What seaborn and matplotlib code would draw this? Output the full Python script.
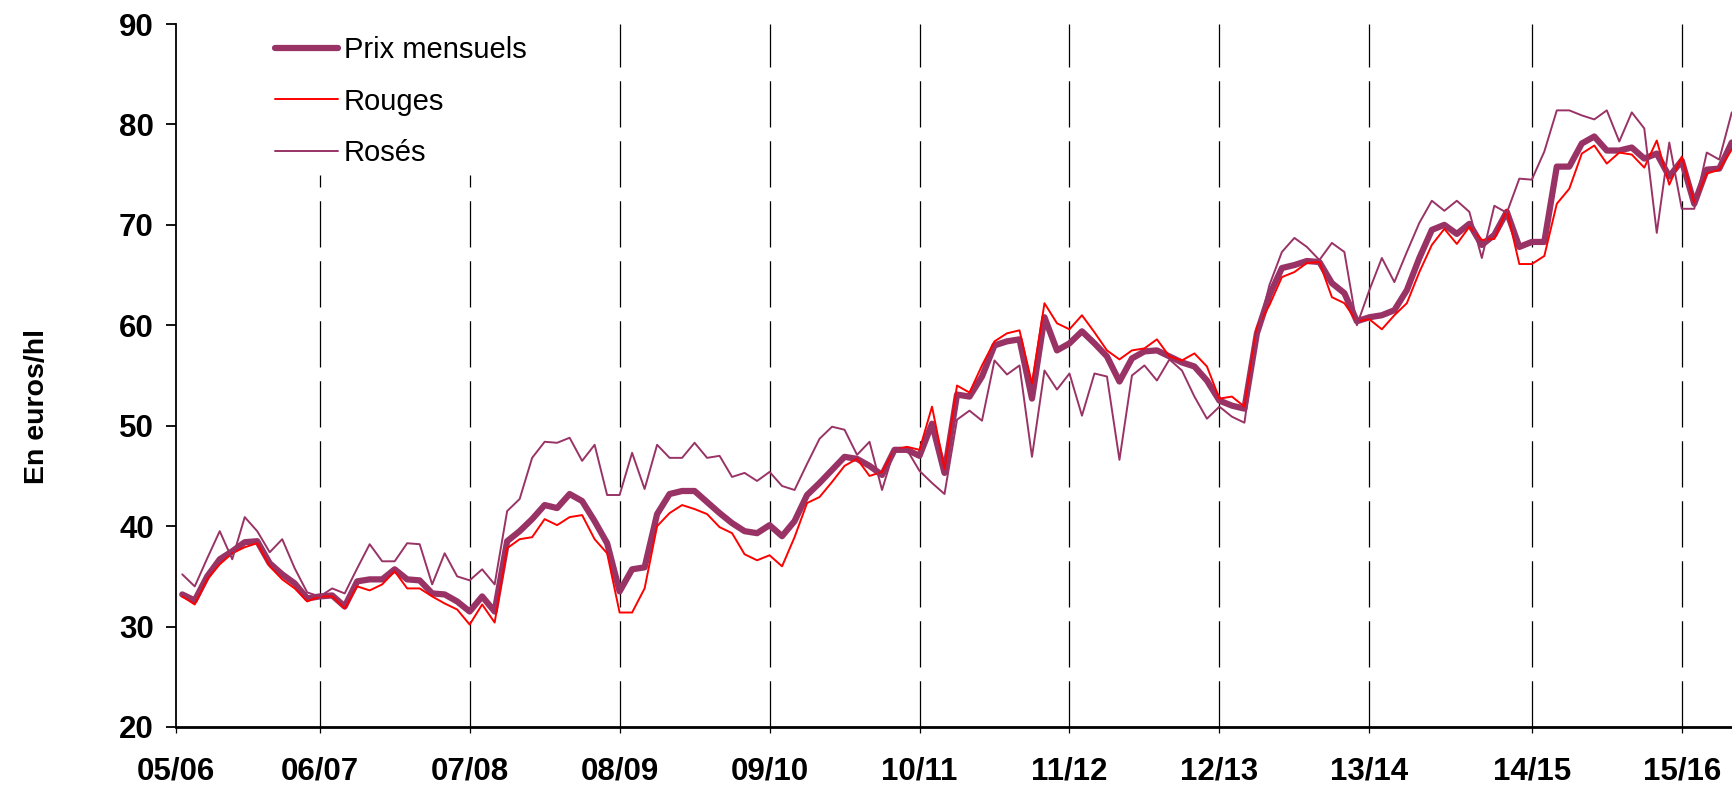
import numpy as np
import pandas as pd
import matplotlib.pyplot as plt
import seaborn as sns

# Prix moyens mensuels (euros/hl), campagnes 05/06 a 15/16
prix = [33.2, 32.6, 35.0, 36.7, 37.5, 38.4, 38.5, 36.3, 35.2, 34.3, 32.8, 33.0,
        33.1, 32.0, 34.5, 34.7, 34.7, 35.7, 34.7, 34.6, 33.3, 33.2, 32.5, 31.5,
        33.0, 31.5, 38.5, 39.5, 40.7, 42.1, 41.8, 43.2, 42.5, 40.5, 38.3, 33.5,
        35.7, 35.9, 41.2, 43.2, 43.5, 43.5, 42.4, 41.3, 40.3, 39.5, 39.3, 40.1,
        39.0, 40.5, 43.1, 44.3, 45.6, 46.9, 46.7, 46.0, 45.1, 47.6, 47.6, 47.0,
        50.2, 45.3, 53.1, 52.9, 54.9, 58.0, 58.4, 58.6, 52.7, 60.8, 57.5, 58.2,
        59.4, 58.2, 56.9, 54.4, 56.7, 57.4, 57.5, 56.9, 56.3, 55.9, 54.5, 52.5,
        52.0, 51.7, 59.2, 63.0, 65.7, 66.0, 66.4, 66.3, 64.2, 63.2, 60.4, 60.8,
        61.0, 61.5, 63.5, 66.7, 69.5, 70.0, 69.1, 70.1, 68.0, 69.0, 71.3, 67.8,
        68.3, 68.3, 75.8, 75.8, 78.1, 78.8, 77.4, 77.4, 77.7, 76.6, 77.1, 74.8,
        76.4, 72.1, 75.5, 75.6, 78.2]

rouges = [33.0, 32.2, 34.7, 36.2, 37.3, 37.9, 38.3, 36.0, 34.7, 33.8, 32.5, 33.0,
          33.0, 31.8, 34.0, 33.6, 34.2, 35.5, 33.8, 33.8, 33.0, 32.3, 31.7, 30.2,
          32.2, 30.4, 37.8, 38.7, 38.9, 40.7, 40.1, 40.9, 41.1, 38.7, 37.3, 31.4,
          31.4, 33.8, 40.0, 41.3, 42.1, 41.7, 41.2, 39.9, 39.3, 37.2, 36.6, 37.1,
          36.0, 38.9, 42.3, 42.9, 44.4, 46.0, 46.7, 45.0, 45.4, 47.6, 47.9, 47.6,
          51.9, 45.7, 54.0, 53.3, 56.0, 58.4, 59.2, 59.5, 54.2, 62.2, 60.2, 59.6,
          61.0, 59.3, 57.5, 56.6, 57.5, 57.7, 58.6, 56.9, 56.5, 57.2, 55.9, 52.7,
          52.9, 51.9, 59.8, 62.0, 64.8, 65.3, 66.2, 66.3, 62.8, 62.2, 60.4, 60.6,
          59.6, 61.0, 62.2, 65.3, 68.0, 69.6, 68.1, 69.8, 68.5, 68.6, 71.5, 66.1,
          66.1, 66.9, 72.1, 73.6, 77.1, 77.9, 76.1, 77.2, 77.0, 75.7, 78.4, 74.0,
          76.8, 72.2, 75.1, 75.5, 77.5]

roses = [35.2, 34.0, 36.8, 39.5, 36.7, 40.9, 39.5, 37.4, 38.7, 35.8, 33.4, 33.0,
         33.8, 33.3, 35.8, 38.2, 36.5, 36.5, 38.3, 38.2, 34.2, 37.3, 35.0, 34.6,
         35.7, 34.2, 41.5, 42.7, 46.8, 48.4, 48.3, 48.8, 46.5, 48.1, 43.1, 43.1,
         47.3, 43.7, 48.1, 46.8, 46.8, 48.3, 46.8, 47.0, 44.9, 45.3, 44.5, 45.4,
         44.0, 43.6, 46.2, 48.7, 49.9, 49.6, 47.1, 48.4, 43.6, 47.7, 47.6, 45.5,
         44.3, 43.2, 50.6, 51.5, 50.5, 56.5, 55.1, 56.0, 46.9, 55.5, 53.6, 55.2,
         51.0, 55.2, 54.9, 46.6, 55.0, 56.0, 54.5, 56.6, 55.5, 52.9, 50.7, 51.9,
         50.9, 50.3, 59.0, 64.0, 67.3, 68.7, 67.8, 66.5, 68.2, 67.3, 60.0, 63.5,
         66.7, 64.3, 67.3, 70.2, 72.4, 71.4, 72.4, 71.3, 66.7, 71.9, 71.2, 74.6,
         74.5, 77.3, 81.4, 81.4, 80.9, 80.5, 81.4, 78.3, 81.2, 79.6, 69.2, 78.2,
         71.6, 71.6, 77.2, 76.5, 81.2]

campaigns = ['05/06', '06/07', '07/08', '08/09', '09/10', '10/11',
             '11/12', '12/13', '13/14', '14/15', '15/16']
# mois (index) ou commence chaque campagne
campaign_start = [-0.5, 11, 23, 35, 47, 59, 71, 83, 95, 108, 120]

df = pd.DataFrame({'mois': np.arange(len(prix)), 'Prix mensuels': prix,
                   'Rouges': rouges, 'Rosés': roses})

sns.set_style('ticks')
plt.rcParams['font.family'] = ['Liberation Sans', 'DejaVu Sans']
plt.rcParams['text.color'] = 'black'
plt.rcParams['xtick.color'] = 'black'
plt.rcParams['ytick.color'] = 'black'
plt.rcParams['axes.edgecolor'] = 'black'

fig = plt.figure(figsize=(17.33, 7.91), dpi=100)
ax = fig.add_axes([176 / 1733, 1 - 727 / 791, 1 - 176 / 1733, (727 - 24) / 791])

# separateurs de campagne
for k, x in enumerate(campaign_start[1:]):
    top = 75 if k < 2 else 90
    ax.plot([x, x], [20, top], color='black', lw=0.9,
            linestyle=(0, (37, 11)), zorder=1)

sns.lineplot(data=df, x='mois', y='Prix mensuels', color='#993366', lw=4.5,
             label='Prix mensuels', ax=ax, zorder=3)
sns.lineplot(data=df, x='mois', y='Rouges', color='#ff0000', lw=1.4,
             label='Rouges', ax=ax, zorder=4)
sns.lineplot(data=df, x='mois', y='Rosés', color='#993366', lw=1.4,
             label='Rosés', ax=ax, zorder=4)

ax.set_xlim(-0.5, 124.1)
ax.set_ylim(20, 90)
ax.set_yticks(range(20, 91, 10))
ax.set_xticks(campaign_start)
ax.set_xticklabels(campaigns)
ax.set_xlabel('')
ax.set_ylabel('')
sns.despine(ax=ax)
ax.spines['left'].set_linewidth(1.3)
ax.spines['bottom'].set_linewidth(2.0)
ax.tick_params(axis='y', direction='out', length=7, width=1.3, pad=9,
               labelsize=22.5)
ax.tick_params(axis='x', direction='out', length=4, width=0.9, pad=17,
               labelsize=22.5)
for t in ax.get_yticklabels() + ax.get_xticklabels():
    t.set_fontweight('bold')

fig.text(37 / 1733, 1 - 406 / 791, 'En euros/hl', rotation=90, ha='center',
         va='center', fontsize=20.5, fontweight='bold')

leg = ax.legend(loc='upper left', bbox_to_anchor=(0.047, 1.02), frameon=False,
                fontsize=21, handlelength=2.15, handletextpad=0.2,
                labelspacing=0.8)

fig.savefig('out.png', dpi=100)
